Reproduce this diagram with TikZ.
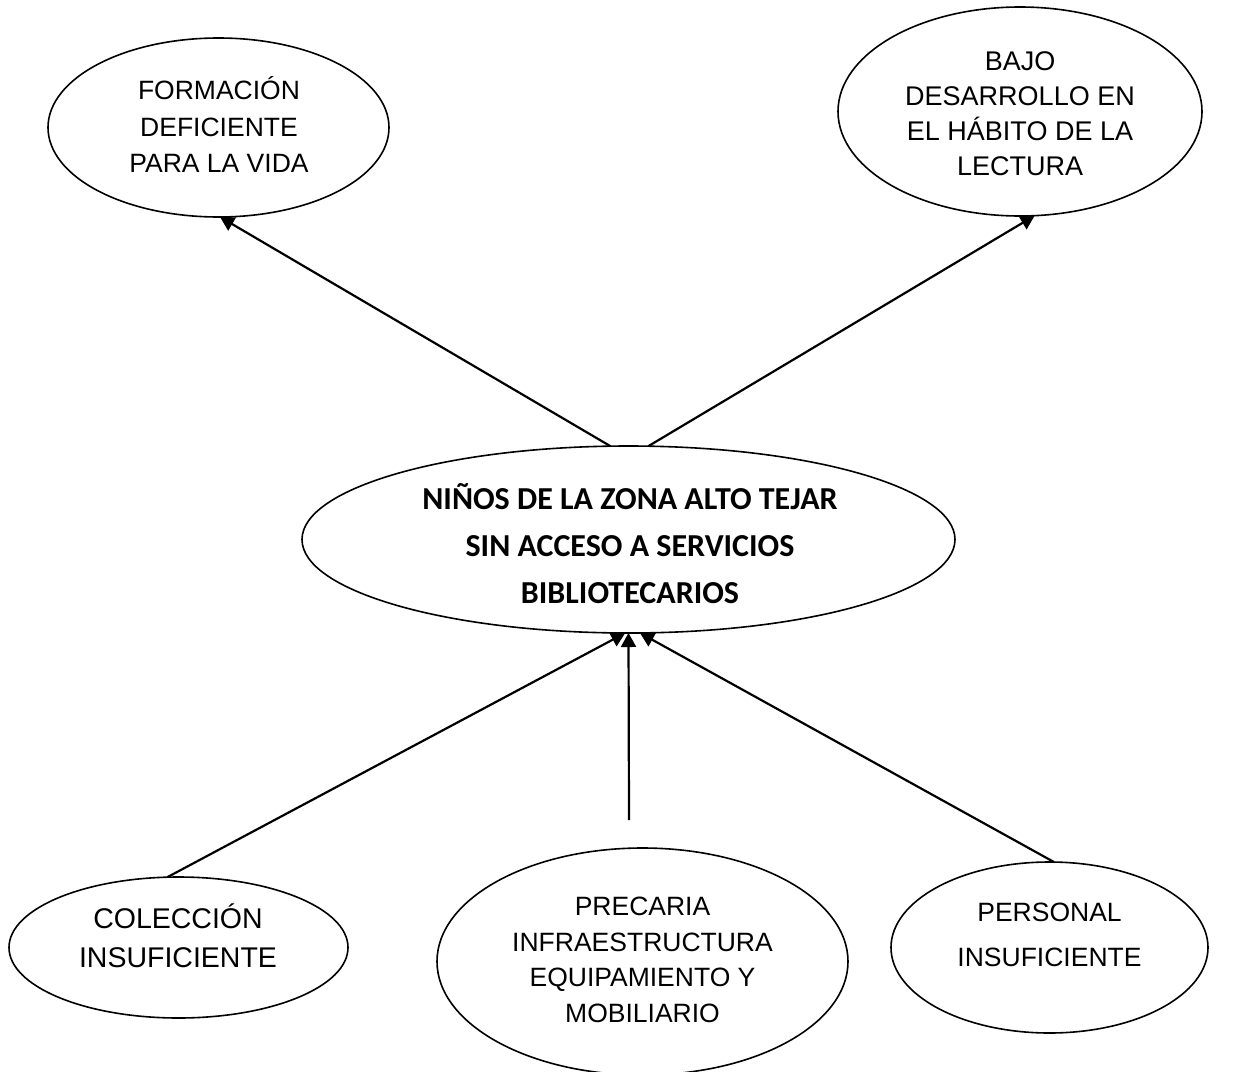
\documentclass[tikz,border=0pt]{standalone}
\usepackage{fontspec}
\setmainfont{Liberation Sans}
\newfontfamily\calib{Carlito}
\usetikzlibrary{shapes.geometric,arrows.meta}
\begin{document}
\begin{tikzpicture}[x=1pt,y=-1pt,
  oval/.style={draw, ellipse, line width=1.6pt, inner sep=0pt, outer sep=0pt},
  lbl/.style={inner sep=0pt, align=center},
  arr/.style={line width=2.2pt, -{Triangle[length=14pt,width=15pt]}}]
\useasboundingbox (0,0) rectangle (1234,1071);
% ellipses
\node[oval, minimum width=341pt, minimum height=179pt] (e1) at (218.5,127.5) {};
\node[oval, minimum width=364pt, minimum height=209pt] (e2) at (1020,111.5) {};
\node[oval, minimum width=653pt, minimum height=187pt] (c) at (628.5,539.5) {};
\node[oval, minimum width=339pt, minimum height=141pt] (b1) at (178.5,947.5) {};
\node[oval, minimum width=411pt, minimum height=227pt] (b2) at (642.5,961.5) {};
\node[oval, minimum width=317pt, minimum height=171pt] (b3) at (1049.5,947.5) {};
% texts
\node[lbl, font=\fontsize{26.5}{36.5}\selectfont] (t1) at (219,125)
  {FORMACIÓN\\DEFICIENTE\\PARA LA VIDA};
\node[lbl, font=\fontsize{27}{35}\selectfont] (t2) at (1020,113.5)
  {BAJO\\DESARROLLO EN\\EL HÁBITO DE LA\\LECTURA};
\node[lbl, font=\calib\bfseries\fontsize{32}{47}\selectfont] (tc) at (630,543.5)
  {NIÑOS DE LA ZONA ALTO TEJAR\\SIN ACCESO A SERVICIOS\\BIBLIOTECARIOS};
\node[lbl, font=\fontsize{28.5}{39}\selectfont] (tb1) at (178,935.5)
  {COLECCIÓN\\INSUFICIENTE};
\node[lbl, font=\fontsize{26.5}{35.5}\selectfont] (tb2) at (642.5,960)
  {PRECARIA\\INFRAESTRUCTURA\\EQUIPAMIENTO Y\\MOBILIARIO};
\node[lbl, font=\fontsize{26.5}{45}\selectfont] (tb3) at (1049.5,935)
  {PERSONAL\\INSUFICIENTE};
% connectors
\coordinate (s4) at (629,820);
\draw[arr] (c.101) -- (e1.271);
\draw[arr] (c.78) -- (e2.278.6);
\draw[arr] (b1.99.3) -- (c.268);
\draw[arr] (s4) -- (c.270);
\draw[arr] (b3.87.5) -- (c.277);
\end{tikzpicture}
\end{document}
